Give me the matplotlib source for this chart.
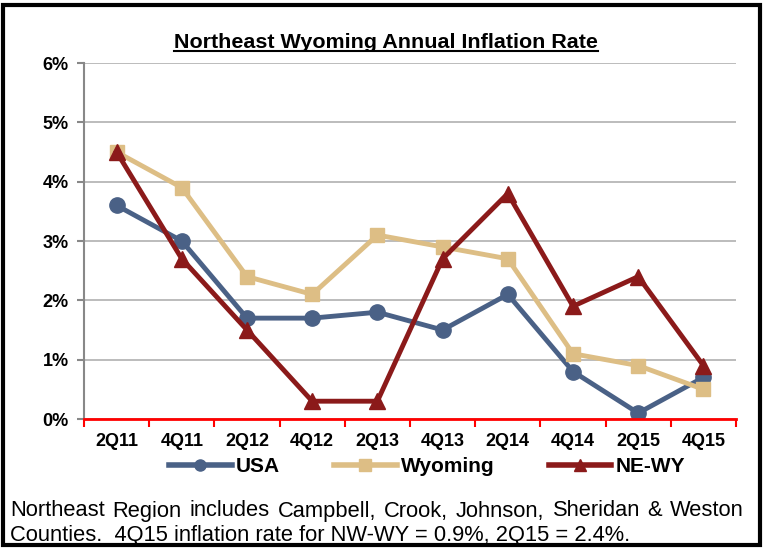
import matplotlib
matplotlib.use("Agg")
import matplotlib.pyplot as plt
from matplotlib.patches import Rectangle
from matplotlib.lines import Line2D

categories = ["2Q11", "4Q11", "2Q12", "4Q12", "2Q13", "4Q13", "2Q14", "4Q14", "2Q15", "4Q15"]
usa = [3.6, 3.0, 1.7, 1.7, 1.8, 1.5, 2.1, 0.8, 0.1, 0.7]
wyoming = [4.5, 3.9, 2.4, 2.1, 3.1, 2.9, 2.7, 1.1, 0.9, 0.5]
newy = [4.5, 2.7, 1.5, 0.3, 0.3, 2.7, 3.8, 1.9, 2.4, 0.9]
yticks = [0, 1, 2, 3, 4, 5, 6]
ytick_labels = ["0%", "1%", "2%", "3%", "4%", "5%", "6%"]
series_names = ["USA", "Wyoming", "NE-WY"]
title = "Northeast Wyoming Annual Inflation Rate"
note1 = "Northeast Region includes Campbell, Crook, Johnson, Sheridan & Weston"
note2 = "Counties.  4Q15 inflation rate for NW-WY = 0.9%, 2Q15 = 2.4%."

c_usa = "#4A6186"
c_wy = "#DDBE85"
c_ne = "#8B1A1A"

plt.rcParams['font.family'] = ['Liberation Sans', 'DejaVu Sans']

W, H = 764, 549
fig = plt.figure(figsize=(W / 100, H / 100), dpi=100)
ax = fig.add_axes([84 / W, 1 - 419 / H, (736 - 84) / W, (419 - 63) / H])

x = list(range(len(categories)))
ax.plot(x, usa, color=c_usa, lw=3.5, marker="o", ms=11, zorder=3)
ax.plot(x, wyoming, color=c_wy, lw=3.5, marker="s", ms=10, zorder=4)
ax.plot(x, newy, color=c_ne, lw=3.5, marker="^", ms=11, zorder=5)

ax.set_xlim(-0.5, len(categories) - 0.5)
ax.set_ylim(0, 6)
ax.set_yticks(yticks)
ax.set_yticklabels(ytick_labels, fontsize=13, fontweight="bold")
ax.set_xticks(x)
ax.set_xticklabels(categories, fontsize=13, fontweight="bold")
ax.set_xticks([i - 0.5 for i in range(len(categories) + 1)], minor=True)
ax.tick_params(axis="x", which="major", length=0, pad=10)
ax.tick_params(axis="x", which="minor", length=6, color="red", width=1.5, direction="out")
ax.tick_params(axis="y", length=5, color="#888888", width=1.5, pad=6)
ax.grid(axis="y", color="#B0B0B0", lw=1.2, zorder=0)
ax.set_axisbelow(True)
for s in ["top", "right"]:
    ax.spines[s].set_visible(False)
ax.spines["left"].set_color("#888888")
ax.spines["left"].set_linewidth(1.5)
ax.spines["bottom"].set_color("red")
ax.spines["bottom"].set_linewidth(2)
ax.spines["bottom"].set_zorder(6)

fig.canvas.draw()
renderer = fig.canvas.get_renderer()

# Title fitted to width 422 px, with underline
t = fig.text(386 / W, 1 - 42 / H, title, ha="center", va="center",
             fontsize=10, fontweight="bold")
w10 = t.get_window_extent(renderer).width
t.set_fontsize(10 * 422 / w10)
fig.canvas.draw()
bb = t.get_window_extent(renderer)
yl = (bb.y0 + 1) / H
fig.add_artist(Line2D([bb.x0 / W, bb.x1 / W], [yl, yl], color="black", lw=1.5))

# Legend
handles = [
    Line2D([], [], color=c_usa, lw=4, marker="o", ms=8),
    Line2D([], [], color=c_wy, lw=4, marker="s", ms=8),
    Line2D([], [], color=c_ne, lw=4, marker="^", ms=8),
]
fig.legend(handles, series_names, loc="center",
           bbox_to_anchor=(427 / W, 1 - 467 / H), ncol=3, frameon=False,
           prop={"weight": "bold", "size": 15}, handlelength=3.0,
           columnspacing=2.6, handletextpad=0.2)

# Footnote: second line fitted to 620 px, first line justified 10..744
t2 = fig.text(10 / W, 1 - 535 / H, note2, ha="left", va="center", fontsize=10)
w10 = t2.get_window_extent(renderer).width
fs = 10 * 620 / w10
t2.set_fontsize(fs)
words = note1.split(" ")
arts = [fig.text(0, 1 - 511 / H, w, ha="left", va="center", fontsize=fs) for w in words]
fig.canvas.draw()
widths = [a.get_window_extent(renderer).width for a in arts]
gap = (744 - 10 - sum(widths)) / (len(words) - 1)
xpos = 10
for a, w in zip(arts, widths):
    a.set_x(xpos / W)
    xpos += w + gap

# Outer border
fig.add_artist(Rectangle((3 / W, 4 / H), 757 / W, 540 / H, transform=fig.transFigure,
                         fill=False, edgecolor="black", lw=3))

fig.savefig("out.png", dpi=100)
